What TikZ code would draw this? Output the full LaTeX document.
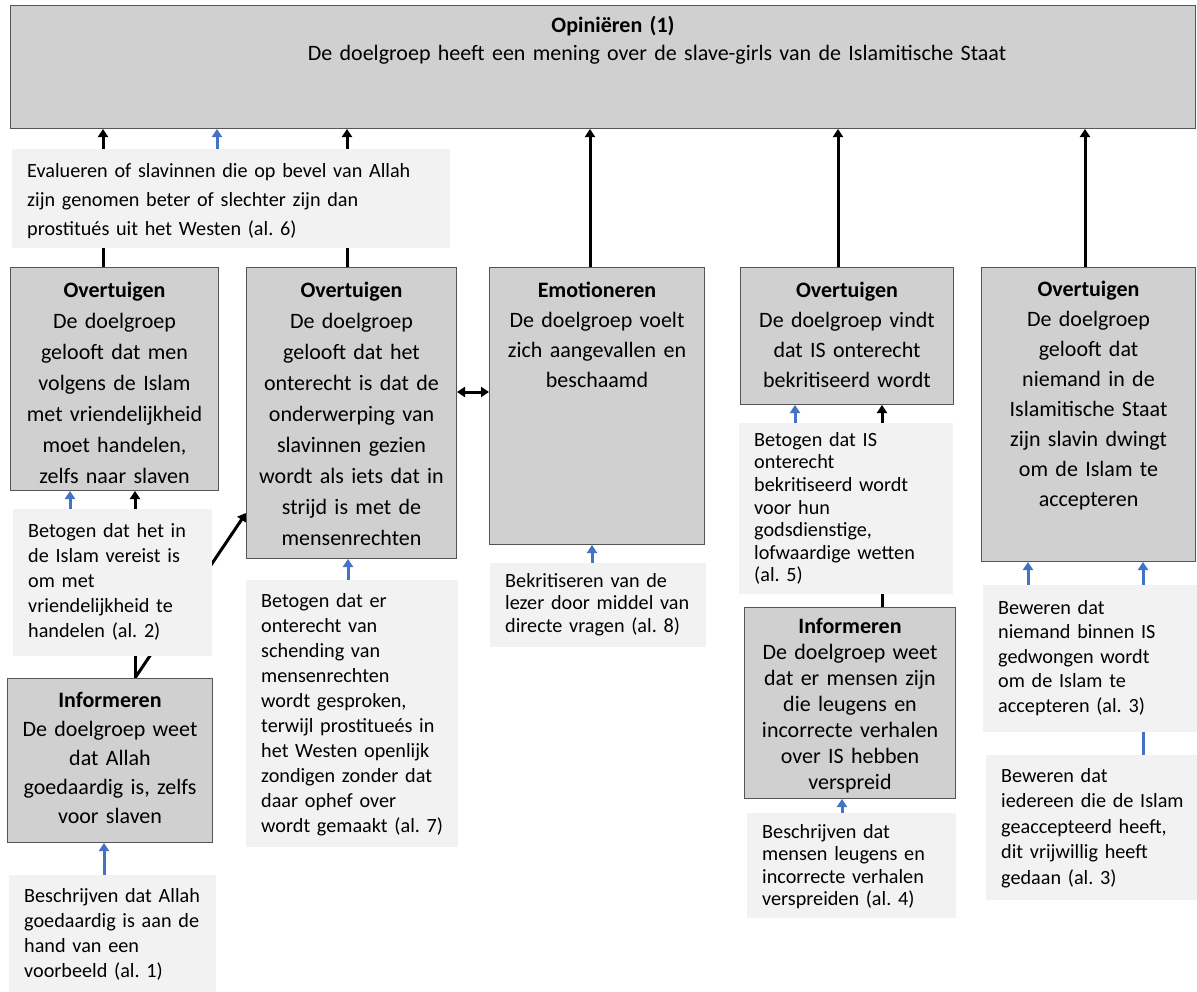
\documentclass[tikz,border=0pt]{standalone}
\usepackage{fontspec}
\setmainfont{Carlito}
\usetikzlibrary{arrows.meta,backgrounds}
\definecolor{boxgray}{HTML}{D0D0D0}
\definecolor{lightbg}{HTML}{F2F2F2}
\definecolor{arrowblue}{HTML}{4472C4}
\definecolor{edgegray}{HTML}{555555}
\frenchspacing

\begin{document}
\begin{tikzpicture}[x=1pt,y=-1pt,
  goalbox/.style={draw=edgegray,line width=1pt,fill=boxgray,anchor=north west,inner sep=0pt,align=center,font=\fontsize{22pt}{30pt}\selectfont},
  actbox/.style={fill=lightbg,anchor=north west,inner xsep=5pt,inner ysep=0pt,align=left,execute at begin node={\leftskip=10pt\relax},font=\fontsize{20.2pt}{25pt}\selectfont},
  blk/.style={line width=3pt,-{Triangle[length=8pt,width=10pt]}},
  blu/.style={blk,draw=arrowblue,-{Triangle[length=8pt,width=10pt,fill=arrowblue]}}]

\useasboundingbox (0,0) rectangle (1197,991);

% Top
\node[goalbox,text width=1185pt,text height=27pt,text depth=96pt,font=\fontsize{22pt}{28pt}\selectfont] (top) at (10,5)
  {\hspace*{20pt}\textbf{Opiniëren (1)}\\\hspace*{108pt}De doelgroep heeft een mening over de slave-girls van de Islamitische Staat};

% Goal boxes
\node[goalbox,text width=208pt,text height=30pt,text depth=193pt,font=\fontsize{22pt}{31pt}\selectfont] (ov1) at (10,267)
  {\textbf{Overtuigen}\\De doelgroep\\gelooft dat men\\volgens de Islam\\met vriendelijkheid\\moet handelen,\\zelfs naar slaven};
\node[goalbox,text width=210pt,text height=30pt,text depth=261pt,font=\fontsize{22pt}{31pt}\selectfont] (ov2) at (246,267)
  {\textbf{Overtuigen}\\De doelgroep\\gelooft dat het\\onterecht is dat de\\onderwerping van\\slavinnen gezien\\wordt als iets dat in\\strijd is met de\\mensenrechten};
\node[goalbox,text width=215pt,text height=30pt,text depth=247pt] (emo) at (489,267)
  {\textbf{Emotioneren}\\De doelgroep voelt\\zich aangevallen en\\beschaamd};
\node[goalbox,text width=213pt,text height=30pt,text depth=107pt] (ov4) at (740,267)
  {\textbf{Overtuigen}\\De doelgroep vindt\\dat IS onterecht\\bekritiseerd wordt};
\node[goalbox,text width=214pt,text height=29pt,text depth=265pt] (ov5) at (981,267)
  {\textbf{Overtuigen}\\De doelgroep\\gelooft dat\\niemand in de\\Islamitische Staat\\zijn slavin dwingt\\om de Islam te\\accepteren};
\node[goalbox,text width=205pt,text height=29pt,text depth=135pt,font=\fontsize{22pt}{29pt}\selectfont] (inf1) at (7,678)
  {\textbf{Informeren}\\De doelgroep weet\\dat Allah\\goedaardig is, zelfs\\voor slaven};
\node[goalbox,text width=211pt,text height=26pt,text depth=165pt,font=\fontsize{22pt}{26pt}\selectfont] (inf2) at (744,607)
  {\textbf{Informeren}\\De doelgroep weet\\dat er mensen zijn\\die leugens en\\incorrecte verhalen\\over IS hebben\\verspreid};

% Action boxes
\node[actbox,text width=428pt,text height=28pt,text depth=71pt,font=\fontsize{20.2pt}{29pt}\selectfont] (eval) at (12,149)
  {Evalueren of slavinnen die op bevel van Allah\\zijn genomen beter of slechter zijn dan\\prostitués uit het Westen (al. 6)};
\node[actbox,text width=189pt,text height=28pt,text depth=119pt] (bet1) at (13,509)
  {Betogen dat het in\\de Islam vereist is\\om met\\vriendelijkheid te\\handelen (al. 2)};
\node[actbox,text width=202pt,text height=27pt,text depth=240pt] (bet2) at (246,580)
  {Betogen dat er\\onterecht van\\schending van\\mensenrechten\\wordt gesproken,\\terwijl prostitueés in\\het Westen openlijk\\zondigen zonder dat\\daar ophef over\\wordt gemaakt (al. 7)};
\node[actbox,text width=206pt,text height=24pt,text depth=60pt,font=\fontsize{20.2pt}{22.5pt}\selectfont] (bek) at (490,563)
  {Bekritiseren van de\\lezer door middel van\\directe vragen (al. 8)};
\node[actbox,text width=204pt,text height=23pt,text depth=148pt,font=\fontsize{20.2pt}{22.6pt}\selectfont] (bet4) at (739,423)
  {Betogen dat IS\\onterecht\\bekritiseerd wordt\\voor hun\\godsdienstige,\\lofwaardige wetten\\(al. 5)};
\node[actbox,text width=197pt,text height=27pt,text depth=103pt] (bes1) at (9,875)
  {Beschrijven dat Allah\\goedaardig is aan de\\hand van een\\voorbeeld (al. 1)};
\node[actbox,text width=199pt,text height=25pt,text depth=80pt,font=\fontsize{20.2pt}{22.4pt}\selectfont] (bes2) at (747,813)
  {Beschrijven dat\\mensen leugens en\\incorrecte verhalen\\verspreiden (al. 4)};
\node[actbox,text width=210pt,text height=29pt,text depth=118pt,font=\fontsize{20.2pt}{24.5pt}\selectfont] (bew1) at (983,585)
  {Beweren dat\\niemand binnen IS\\gedwongen wordt\\om de Islam te\\accepteren (al. 3)};
\node[actbox,text width=207pt,text height=27pt,text depth=118pt,font=\fontsize{20.2pt}{25.5pt}\selectfont] (bew2) at (986,755)
  {Beweren dat\\iedereen die de Islam\\geaccepteerd heeft,\\dit vrijwillig heeft\\gedaan (al. 3)};

% Connectors
\begin{scope}[on background layer]
\draw[blk] (ov1.north -| 103,0) -- (top.south -| 103,0);
\draw[blu] (eval.north -| 217,0) -- (top.south -| 217,0);
\draw[blk] (ov2.north -| 347,0) -- (top.south -| 347,0);
\draw[blk] (emo.north -| 590,0) -- (top.south -| 590,0);
\draw[blk] (ov4.north -| 838,0) -- (top.south -| 838,0);
\draw[blk] (ov5.north -| 1085,0) -- (top.south -| 1085,0);

\draw[blu] (bet1.north -| 70,0) -- (ov1.south -| 70,0);
\draw[blk] (inf1.north -| 135,0) -- (ov1.south -| 135,0);
\draw[blk] (inf1.north -| 135,0) -- (ov2.west |- 0,513);
\draw[blu] (bes1.north -| 104,0) -- (inf1.south -| 104,0);
\draw[blu] (bet2.north -| 348,0) -- (ov2.south -| 348,0);
\draw[blk,{Triangle[length=8pt,width=10pt]}-{Triangle[length=8pt,width=10pt]}] (ov2.east |- 0,392) -- (emo.west |- 0,392);
\draw[blu] (bek.north -| 592,0) -- (emo.south -| 592,0);

\draw[blu] (bet4.north -| 795,0) -- (ov4.south -| 795,0);
\draw[blk] (inf2.north -| 882,0) -- (ov4.south -| 882,0);
\draw[blu] (bes2.north -| 842,0) -- (inf2.south -| 842,0);
\draw[blu] (bew1.north -| 1028,0) -- (ov5.south -| 1028,0);
\draw[blu] (bew2.north -| 1143,0) -- (ov5.south -| 1143,0);
\end{scope}

\end{tikzpicture}
\end{document}
